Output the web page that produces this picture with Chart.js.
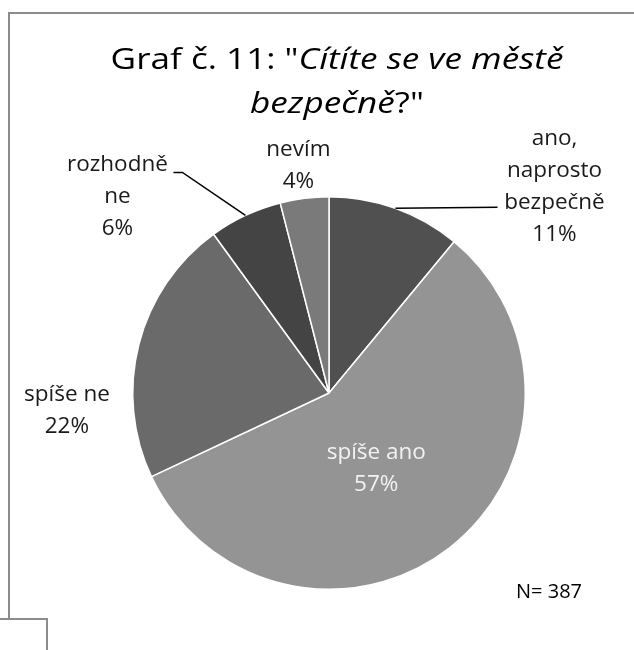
<!DOCTYPE html>
<html><head><meta charset="utf-8">
<script src="https://cdn.jsdelivr.net/npm/chart.js@4"></script>
<style>html,body{margin:0;padding:0;background:#fff;overflow:hidden}#wrap{position:relative;width:634px;height:650px}canvas{display:block}</style>
</head><body><div id="wrap"><canvas id="c" width="634" height="650"></canvas></div>
<script>
// ---- data ----
const categoryLines = [["ano,","naprosto","bezpečně"],["spíše ano"],["spíše ne"],["rozhodně","ne"],["nevím"]];
const categories = categoryLines.map(l => l.join(" "));
const shares = [11, 57, 22, 6, 4];
const sliceColors = ["#505050", "#949494", "#6a6a6a", "#444444", "#7a7a7a"];
const titleLine1 = [["Graf č. 11: \"", "normal"], ["Cítíte se ve městě", "italic"]];
const titleLine2 = [["bezpečně", "italic"], ["?\"", "normal"]];
const noteText = "N= 387";

// label placement relative to each slice's outer mid-point
const placement = [
  {dx: 159, dy: -22, leader: [[102, -1]]},
  {dx: -73, dy: -79, color: "#f2f2f2"},
  {dx: -72, dy: 66},
  {dx: -128, dy: -19, leader: [[-63, -43], [-72, -43]]},
  {dx: -6, dy: -33}
];
const FONT = "'Open Sans', sans-serif";
const TITLE_SIZE = 30;
const TITLE_STRETCH = 1.17;

const framePlugin = {
  id: "frame",
  beforeDraw(chart) {
    const ctx = chart.ctx;
    ctx.save();
    ctx.fillStyle = "#fff";
    ctx.fillRect(0, 0, chart.width, chart.height);
    ctx.strokeStyle = "#8c8c8c";
    ctx.lineWidth = 2;
    ctx.beginPath();
    ctx.moveTo(9, 620); ctx.lineTo(9, 13); ctx.lineTo(chart.width + 5, 13);
    ctx.stroke();
    ctx.beginPath();
    ctx.moveTo(-5, 619); ctx.lineTo(47, 619); ctx.lineTo(47, chart.height + 5);
    ctx.stroke();
    // title
    ctx.fillStyle = "#000";
    ctx.textBaseline = "alphabetic";
    ctx.textAlign = "left";
    const drawLine = (segs, cx, by) => {
      let w = 0;
      segs.forEach(([t, st]) => { ctx.font = st + " " + TITLE_SIZE + "px " + FONT; w += ctx.measureText(t).width; });
      ctx.save();
      ctx.translate(cx, by);
      ctx.scale(TITLE_STRETCH, 1);
      let x = -w / 2;
      segs.forEach(([t, st]) => { ctx.font = st + " " + TITLE_SIZE + "px " + FONT; ctx.fillText(t, x, 0); x += ctx.measureText(t).width; });
      ctx.restore();
    };
    drawLine(titleLine1, 337, 69);
    drawLine(titleLine2, 337, 113);
    ctx.font = "20px " + FONT;
    ctx.fillText(noteText, 516, 598);
    ctx.restore();
  }
};

const labelPlugin = {
  id: "sliceLabels",
  afterDatasetsDraw(chart) {
    const ctx = chart.ctx;
    const meta = chart.getDatasetMeta(0);
    ctx.save();
    meta.data.forEach((arc, i) => {
      const p = arc.getProps(["x", "y", "startAngle", "endAngle", "outerRadius"], true);
      const mid = (p.startAngle + p.endAngle) / 2;
      const px = p.x + p.outerRadius * Math.cos(mid);
      const py = p.y + p.outerRadius * Math.sin(mid);
      const pl = placement[i];
      if (pl.leader) {
        ctx.beginPath();
        ctx.moveTo(px, py);
        pl.leader.forEach(([lx, ly]) => ctx.lineTo(px + lx, py + ly));
        ctx.strokeStyle = "#000";
        ctx.lineWidth = 1.5;
        ctx.stroke();
      }
      const lines = [...categoryLines[i], shares[i] + "%"];
      ctx.font = "22.5px " + FONT;
      ctx.fillStyle = pl.color || "#1a1a1a";
      ctx.textAlign = "center";
      ctx.textBaseline = "middle";
      const lh = 32;
      const cx = px + pl.dx, cy = py + pl.dy;
      const y0 = cy - (lines.length - 1) * lh / 2;
      lines.forEach((t, k) => ctx.fillText(t, cx, y0 + k * lh));
    });
    ctx.restore();
  }
};

new Chart(document.getElementById("c"), {
  type: "pie",
  data: {
    labels: categories,
    datasets: [{
      data: shares,
      backgroundColor: sliceColors,
      borderColor: "#ffffff",
      borderWidth: 1.5
    }]
  },
  options: {
    responsive: false,
    animation: false,
    layout: {padding: {left: 132, right: 108, top: 196, bottom: 60}},
    plugins: {legend: {display: false}, tooltip: {enabled: false}, title: {display: false}}
  },
  plugins: [framePlugin, labelPlugin]
});
</script>
</body></html>
